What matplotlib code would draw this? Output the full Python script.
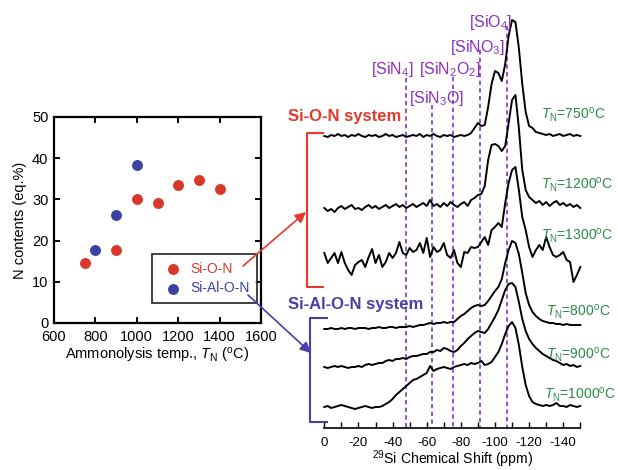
import numpy as np
import matplotlib
matplotlib.use('Agg')
import matplotlib.pyplot as plt
from matplotlib.ticker import MultipleLocator

# Helvetica-like text everywhere, mathtext in the same family
plt.rcParams['font.family'] = ['Liberation Sans', 'DejaVu Sans']
plt.rcParams['mathtext.fontset'] = 'custom'
plt.rcParams['mathtext.rm'] = 'Liberation Sans'
plt.rcParams['mathtext.it'] = 'Liberation Sans:italic'
plt.rcParams['mathtext.bf'] = 'Liberation Sans:bold'

RED = '#d8382a'
BLUE = '#3a42a2'
BRACKET_RED = '#e5392d'
BRACKET_BLUE = '#4b3ea6'
PURPLE = '#8a2fc4'
GREEN = '#2a8a48'

# --- N content vs. ammonolysis temperature ---
temp_sion = [750, 900, 1000, 1100, 1200, 1300, 1400]
n_sion = [14.6, 17.6, 30.0, 29.2, 33.6, 34.7, 32.6]
temp_sialon = [800, 900, 1000]
n_sialon = [17.6, 26.3, 38.3]

# --- 29Si MAS NMR spectra, sampled every 2 ppm from 0 to -150 ppm ---
shift = np.arange(0, -152, -2)

h_750 = [0, -1, 1, 0, 2, 0, 1, -1, 1, 0,
         2, 0, -1, 1, 0, 1, -1, 0, 2, 0,
         1, -1, 0, 1, -1, 0, 1, 0, 2, -1,
         1, 0, 2, 0, -1, 1, 0, 1, -1, 0,
         1, 0, 1, 3, 8, 13, 10, 11, 29, 52,
         65, 63, 55, 72, 100, 116, 114, 88, 52, 24,
         10, 8, 4, 3, 2, 1, 2, 0, 1, 2,
         0, 1, 2, 0, 1, 0]
h_1200 = [0, -3, -1, -4, 0, 2, -1, 1, 3, -1,
          0, -2, 1, 3, 0, 2, -1, 1, 3, 0,
          2, 4, 1, 3, 0, 2, 4, 1, 3, 5,
          2, 8, 2, 4, 1, 5, 2, 6, 3, 1,
          4, 6, 2, 8, 10, 13, 14, 22, 48, 63,
          64, 62, 57, 62, 85, 108, 113, 80, 38, 18,
          11, 8, 5, 7, 3, 6, 2, 5, 7, 3,
          5, 2, 4, 1, 3, 0]
h_1300 = [5, -5, 0, 5, -5, 6, -5, -12, -17, -7,
          -4, -2, -9, 1, 9, -5, 3, -9, -4, 5,
          0, 5, 16, 5, 3, 10, 6, 8, 15, 5,
          20, 1, 11, 6, 8, 15, 3, 0, 8, -5,
          -9, 6, 5, 11, 10, 11, 16, 21, 13, 28,
          31, 35, 31, 55, 75, 88, 91, 68, 41, 28,
          11, 1, 8, 13, 8, 21, 11, 3, 1, 3,
          6, -2, -4, -24, -17, -9]
h_800 = [0, 0, 1, 0, 0, 1, 0, 1, 1, 0,
         1, 1, 1, 0, 1, 1, 2, 1, 1, 2,
         2, 1, 2, 2, 2, 3, 2, 3, 4, 4,
         5, 6, 5, 6, 6, 7, 6, 7, 7, 10,
         13, 15, 18, 21, 23, 24, 23, 24, 28, 33,
         38, 42, 50, 66, 79, 88, 86, 75, 56, 36,
         24, 17, 13, 10, 8, 7, 6, 6, 5, 5,
         4, 5, 4, 4, 4, 4]
h_900 = [0, -1, 0, 1, 0, 1, 0, -1, 0, 0,
         1, 0, 2, 3, 2, 3, 4, 4, 6, 7,
         6, 8, 8, 9, 8, 10, 11, 11, 12, 13,
         13, 15, 15, 17, 16, 19, 18, 16, 15, 17,
         21, 24, 28, 31, 34, 36, 35, 34, 38, 44,
         50, 57, 67, 77, 83, 84, 80, 65, 48, 36,
         28, 23, 19, 16, 13, 11, 9, 7, 6, 4,
         2, 3, 1, 2, 0, 1]
h_1000 = [0, 1, -1, 0, 1, 2, 1, 0, -1, -2,
          -1, 0, 1, 0, -1, 0, 0, 1, 3, 5,
          8, 12, 15, 18, 21, 24, 27, 28, 30, 32,
          34, 41, 36, 38, 39, 40, 39, 38, 40, 41,
          42, 43, 42, 44, 43, 44, 46, 42, 43, 45,
          50, 55, 63, 73, 81, 85, 79, 62, 40, 22,
          11, 5, 3, 2, 1, 2, 1, 2, 4, 1,
          1, 0, 2, 1, 0, 1]

spectra = [h_750, h_1200, h_1300, h_800, h_900, h_1000]
spec_temps = ['750', '1200', '1300', '800', '900', '1000']
offsets = [136, 208, 258, 329, 367, 407]        # stacking offsets (inverted y)
label_px = [541, 541, 541, 546, 546, 544]       # temperature labels, figure pixels
label_py = [119, 189, 240, 316, 359, 399]

site_labels = ['[SiN$_4$]', '[SiN$_3$O]', '[SiN$_2$O$_2$]', '[SiNO$_3$]', '[SiO$_4$]']
site_shift = [-48, -63, -75.5, -91.5, -107]
site_top = [78, 105, 77, 50, 26]
site_text_x = [-27.4, -49.8, -55.7, -73.6, -84.8]
site_text_y = [73.5, 102.5, 73.5, 51.5, 26.5]

fig = plt.figure(figsize=(6.18, 4.70), dpi=100)
W, H = 618, 470

# left: scatter plot
ax = fig.add_axes([54 / W, (H - 323) / H, 207 / W, 206 / H])
ax.scatter(temp_sion, n_sion, s=62, color=RED, label='Si-O-N', zorder=3, linewidths=0)
ax.scatter(temp_sialon, n_sialon, s=62, color=BLUE, label='Si-Al-O-N', zorder=3, linewidths=0)
ax.set_xlim(600, 1600)
ax.set_ylim(0, 50)
ax.xaxis.set_major_locator(MultipleLocator(200))
ax.yaxis.set_major_locator(MultipleLocator(10))
ax.tick_params(direction='in', top=True, right=True, length=4, width=1.4,
               labelsize=10.5)
ax.tick_params(axis='x', pad=5)
ax.tick_params(axis='y', pad=4)
for sp in ax.spines.values():
    sp.set_linewidth(1.6)
ax.set_xlabel(r'Ammonolysis temp., $T_{\mathrm{N}}$ ($^{\mathrm{o}}$C)', fontsize=10.5, labelpad=1.5)
ax.set_ylabel('N contents (eq.%)', fontsize=10.5, labelpad=4)
leg = ax.legend(loc='lower left', bbox_to_anchor=(0.473, 0.097), frameon=True,
                fancybox=False, edgecolor='black', fontsize=10, borderpad=0.55,
                handlelength=2.0, handletextpad=0.2, labelspacing=0.4,
                borderaxespad=0, labelcolor=[RED, BLUE])
leg.get_frame().set_linewidth(1.3)

# right: stacked spectra
ax2 = fig.add_axes([324.3 / W, (H - 427.7) / H, 256 / W, 427.7 / H])
ax2.set_xlim(0, -150)
ax2.set_ylim(427.7, 0)
for sp in ['left', 'right', 'top']:
    ax2.spines[sp].set_visible(False)
ax2.spines['bottom'].set_linewidth(1.2)
ax2.set_yticks([])
ax2.xaxis.set_major_locator(MultipleLocator(20))
ax2.xaxis.set_minor_locator(MultipleLocator(10))
ax2.tick_params(axis='x', which='both', direction='in', length=4.3, width=1.0,
                labelsize=9.5, pad=6.5)
ax2.set_xticklabels([f'{int(v)}' for v in ax2.get_xticks()])
ax2.set_xlabel(r'$^{29}$Si Chemical Shift (ppm)', fontsize=10.2, labelpad=0)

ax2.vlines(site_shift, site_top, 427.7, colors=PURPLE, linestyles=(0, (2.6, 2.0)), lw=1.2)
for txt, x, y in zip(site_labels, site_text_x, site_text_y):
    ax2.text(x, y, txt, color=PURPLE, fontsize=11.5, ha='left', va='baseline')

for h, base in zip(spectra, offsets):
    ax2.plot(shift, base - np.array(h), color='black', lw=1.4, clip_on=False)

# overlay in pixel units for brackets, arrows and annotations
ov = fig.add_axes([0, 0, 1, 1])
ov.set_xlim(0, W)
ov.set_ylim(H, 0)
ov.axis('off')
ov.patch.set_visible(False)

for t, px, py in zip(spec_temps, label_px, label_py):
    ov.text(px, py, r'$T_{\mathrm{N}}$=' + t + r'$^{\mathrm{o}}$C', color=GREEN,
            fontsize=10, ha='left', va='baseline')

ov.plot([322.7, 306.7, 306.7, 322.7], [132.7, 132.7, 287.3, 287.3], color=BRACKET_RED, lw=1.5)
ov.plot([327, 310, 310, 327], [318.3, 318.3, 421.7, 421.7], color=BRACKET_BLUE, lw=1.5)
ov.text(288, 116, 'Si-O-N system', color=BRACKET_RED, fontsize=12, fontweight='bold',
        ha='left', va='center')
ov.text(288, 305, 'Si-Al-O-N system', color=BRACKET_BLUE, fontsize=12, fontweight='bold',
        ha='left', va='center')
ov.annotate('', xy=(306, 212), xytext=(243, 266),
            arrowprops=dict(arrowstyle='-|>', color=BRACKET_RED, lw=1.2, mutation_scale=16,
                            shrinkA=0, shrinkB=0))
ov.annotate('', xy=(311, 353), xytext=(248, 295),
            arrowprops=dict(arrowstyle='-|>', color=BRACKET_BLUE, lw=1.2, mutation_scale=16,
                            shrinkA=0, shrinkB=0))

fig.savefig('out.png', dpi=100)
